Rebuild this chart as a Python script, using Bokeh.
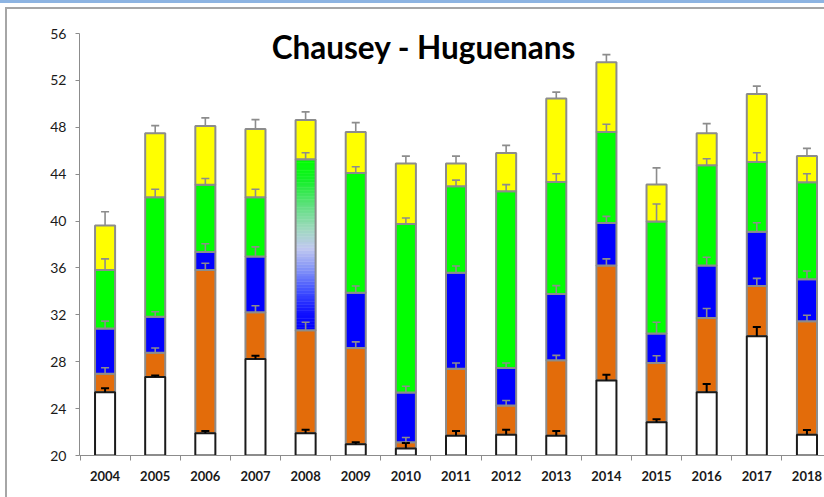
from bokeh.plotting import figure
from bokeh.models import Range1d, FixedTicker, Label, ColumnDataSource
from bokeh.embed import file_html
from bokeh.resources import INLINE

# ---------------- data ----------------
years = ["2004", "2005", "2006", "2007", "2008", "2009", "2010", "2011",
         "2012", "2013", "2014", "2015", "2016", "2017", "2018"]

# cumulative tops of each stacked layer (None = layer not drawn)
white_top = [25.40, 26.69, 21.89, 28.23, 21.89, 20.97, 20.60, 21.69,
             21.77, 21.69, 26.40, 22.83, 25.40, 30.17, 21.77]
orange_top = [26.97, 28.77, 35.83, 32.23, 30.69, 29.17, 21.14, 27.40,
              24.26, 28.12, 36.20, 27.89, 31.74, 34.46, 31.46]
blue_top = [30.83, 31.83, 37.37, 36.97, None, 33.89, 25.38, 35.60,
            27.46, 33.77, 39.83, 30.40, 36.20, 39.09, 35.03]
green_top = [35.83, 42.03, 43.09, 42.03, 45.26, 44.11, 39.74, 42.97,
             42.54, 43.34, 47.60, 39.97, 44.77, 45.03, 43.31]
yellow_top = [39.63, 47.49, 48.11, 47.86, 48.63, 47.60, 44.91, 44.91,
              45.80, 50.46, 53.54, 43.11, 47.49, 50.83, 45.54]

# upper ends of the error bars of each layer
white_err = [25.74, 26.83, 22.09, 28.51, 22.20, 21.14, 21.06, 22.09,
             22.20, 22.09, 26.89, 23.09, 26.11, 30.97, 22.17]
orange_err = [27.49, 29.17, 36.40, 32.77, 31.37, 29.69, 21.54, 27.89,
              24.69, 28.54, 36.77, 28.51, 32.54, 35.11, 31.97]
blue_err = [31.46, 32.26, 38.06, 37.80, None, 34.46, 25.91, 36.17,
            27.89, 34.49, 40.40, 31.37, 36.91, 39.86, 35.74]
green_err = [36.77, 42.71, 43.63, 42.71, 45.83, 44.63, 40.26, 43.49,
             43.11, 44.03, 48.26, 41.46, 45.31, 45.83, 44.03]
yellow_err = [40.80, 48.14, 48.80, 48.65, 49.31, 48.40, 45.54, 45.54,
              46.46, 51.00, 54.20, 44.54, 48.31, 51.51, 46.20]

y_ticks = [20, 24, 28, 32, 36, 40, 44, 48, 52, 56]
title_text = "Chausey - Huguenans"
gradient_years = ["2008"]   # green layer of this year is drawn with a blue->green gradient

# ---------------- styling ----------------
ORANGE = "#E36C0A"
BLUE = "#0000FF"
GREEN = "#00FF00"
YELLOW = "#FFFF00"
EDGE = "#8C8C8C"
BAR_W = 0.4
CAP = 0.08

layers = [
    ("white", white_top, white_err, "#FFFFFF", "#1A1A1A", "#000000"),
    ("orange", orange_top, orange_err, ORANGE, EDGE, EDGE),
    ("blue", blue_top, blue_err, BLUE, EDGE, EDGE),
    ("green", green_top, green_err, GREEN, EDGE, EDGE),
    ("yellow", yellow_top, yellow_err, YELLOW, EDGE, EDGE),
]

p = figure(width=817, height=488, output_backend="svg", toolbar_location=None,
           x_range=Range1d(-0.51, 14.39), y_range=Range1d(20, 56),
           min_border_left=72, min_border_right=0, min_border_top=24,
           min_border_bottom=44)
# outer chart-area frame (grey) and the light blue strip above it
p.styles = {
    "vertical-align": "top",
    "overflow": "hidden",
    "box-sizing": "content-box",
    "margin-left": "5px",
    "margin-top": "7px",
    "border-left": "2px solid #A6A6A6",
    "border-top": "2px solid #A6A6A6",
    "box-shadow": "0 1px 0 5px #FFFFFF, 0 -12px 0 5px #8DB4E2",
}
p.outline_line_color = None
p.xgrid.visible = False
p.ygrid.visible = False
p.background_fill_color = "white"
p.border_fill_color = "white"

# compute segments
segs = {name: dict(x=[], bottom=[], top=[]) for name, *_ in layers}
grad = dict(x=[], bottom=[], top=[], color=[])
grad_outline = dict(x=[], bottom=[], top=[])
errs = {name: dict(x=[], y0=[], y1=[]) for name, *_ in layers}

GRAD_STOPS = [(0.0, (0, 0, 255)), (0.10, (16, 16, 255)), (0.23, (64, 80, 255)),
              (0.35, (128, 144, 248)), (0.48, (192, 200, 240)), (0.59, (160, 216, 192)),
              (0.73, (96, 224, 128)), (0.88, (20, 240, 40)), (1.0, (0, 255, 0))]


def grad_color(t):
    for (t0, c0), (t1, c1) in zip(GRAD_STOPS[:-1], GRAD_STOPS[1:]):
        if t0 <= t <= t1:
            f = (t - t0) / (t1 - t0)
            c = [round(a + (b - a) * f) for a, b in zip(c0, c1)]
            return "#%02X%02X%02X" % tuple(c)
    return "#00FF00"


for i, yr in enumerate(years):
    prev = 20
    for name, tops, ers, fill, edge, ecol in layers:
        t = tops[i]
        if t is None:
            continue
        if name == "green" and yr in gradient_years:
            n = 60
            h = (t - prev) / n
            for k in range(n):
                grad["x"].append(i)
                grad["bottom"].append(prev + k * h)
                grad["top"].append(prev + (k + 1) * h)
                grad["color"].append(grad_color((k + 0.5) / n))
            grad_outline["x"].append(i)
            grad_outline["bottom"].append(prev)
            grad_outline["top"].append(t)
        else:
            segs[name]["x"].append(i)
            segs[name]["bottom"].append(prev)
            segs[name]["top"].append(t)
        if ers[i] is not None:
            errs[name]["x"].append(i)
            errs[name]["y0"].append(t)
            errs[name]["y1"].append(ers[i])
        prev = t

# colored layers first, white on top of them
for name, tops, ers, fill, edge, ecol in layers[1:]:
    p.vbar(x="x", bottom="bottom", top="top", width=BAR_W,
           source=ColumnDataSource(segs[name]), fill_color=fill,
           line_color=edge, line_width=2)
p.vbar(x="x", bottom="bottom", top="top", width=BAR_W,
       source=ColumnDataSource(grad), fill_color="color", line_color="color",
       line_width=0.5)
p.vbar(x="x", bottom="bottom", top="top", width=BAR_W,
       source=ColumnDataSource(grad_outline), fill_color=None,
       line_color=EDGE, line_width=2)
name, tops, ers, fill, edge, ecol = layers[0]
p.vbar(x="x", bottom="bottom", top="top", width=BAR_W,
       source=ColumnDataSource(segs["white"]), fill_color=fill,
       line_color=edge, line_width=2)

# error bars (drawn over the bars)
for name, tops, ers, fill, edge, ecol in layers:
    d = errs[name]
    src = ColumnDataSource(dict(x=d["x"], y0=d["y0"], y1=d["y1"],
                                xl=[x - CAP for x in d["x"]],
                                xr=[x + CAP for x in d["x"]]))
    lw = 2 if name == "white" else 1.6
    p.segment(x0="x", y0="y0", x1="x", y1="y1", source=src, line_color=ecol, line_width=lw)
    p.segment(x0="xl", y0="y1", x1="xr", y1="y1", source=src, line_color=ecol, line_width=lw)

# axes
p.yaxis.ticker = FixedTicker(ticks=y_ticks)
p.yaxis.axis_line_color = EDGE
p.yaxis.major_tick_line_color = EDGE
p.yaxis.major_tick_out = 4
p.yaxis.major_tick_in = 0
p.yaxis.minor_tick_line_color = None
p.yaxis.major_label_standoff = 9
p.yaxis.major_label_text_font = "Lato"
p.yaxis.major_label_text_font_size = "14px"
p.yaxis.major_label_text_color = "#1A1A1A"

p.xaxis.ticker = FixedTicker(ticks=list(range(len(years))),
                             minor_ticks=[k - 0.5 for k in range(len(years) + 1)])
p.xaxis.major_label_overrides = {k: yr for k, yr in enumerate(years)}
p.xaxis.axis_line_color = EDGE
p.xaxis.major_tick_line_color = None
p.xaxis.major_tick_out = 0
p.xaxis.major_tick_in = 0
p.xaxis.minor_tick_line_color = EDGE
p.xaxis.minor_tick_out = 5
p.xaxis.minor_tick_in = 0
p.xaxis.major_label_standoff = 10
p.xaxis.major_label_text_font = "Lato"
p.xaxis.major_label_text_font_style = "bold"
p.xaxis.major_label_text_font_size = "13px"
p.xaxis.major_label_text_color = "#1A1A1A"

p.add_layout(Label(x=6.36, y=54.87, text=title_text, text_font="Lato",
                   text_font_style="bold", text_font_size="31.5px",
                   text_align="center", text_baseline="alphabetic",
                   text_color="#000000"))

open("out.html", "w").write(file_html(p, INLINE))
